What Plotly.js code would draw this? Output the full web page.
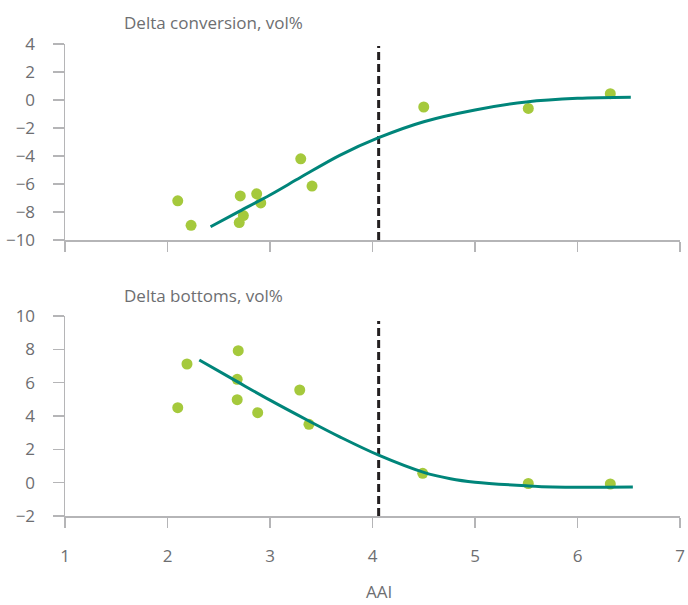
<!DOCTYPE html>
<html>
<head>
<meta charset="utf-8">
<script src="https://cdn.plot.ly/plotly-3.0.1.min.js"></script>
<style>html,body{margin:0;padding:0;background:#fff;}#chart{width:688px;height:605px;}</style>
</head>
<body>
<div id="chart"></div>
<script>
// Top panel: Delta conversion, vol%
const convX = [2.10, 2.23, 2.71, 2.70, 2.74, 2.87, 2.91, 3.30, 3.41, 4.50, 5.52, 6.32];
const convY = [-7.2, -8.95, -6.85, -8.75, -8.25, -6.7, -7.35, -4.2, -6.15, -0.5, -0.6, 0.45];
const convFitX = [2.42, 2.7, 3.0, 3.3, 3.68, 4.06, 4.5, 5.0, 5.5, 6.0, 6.52];
const convFitY = [-9.05, -7.95, -6.78, -5.52, -3.95, -2.69, -1.55, -0.71, -0.14, 0.12, 0.2];

// Bottom panel: Delta bottoms, vol%
const botX = [2.10, 2.19, 2.69, 2.68, 2.68, 2.88, 3.29, 3.38, 4.49, 5.52, 6.32];
const botY = [4.5, 7.12, 7.92, 6.2, 4.98, 4.2, 5.56, 3.5, 0.56, -0.05, -0.08];
const botFitX = [2.31, 2.68, 3.0, 3.38, 3.68, 4.06, 4.5, 4.76, 5.0, 5.5, 5.76, 6.54];
const botFitY = [7.36, 6.06, 4.95, 3.7, 2.75, 1.65, 0.62, 0.24, 0.03, -0.19, -0.26, -0.26];

const thresholdX = 4.06;
const xTicks = [1, 2, 3, 4, 5, 6, 7];
const convTicks = [-10, -8, -6, -4, -2, 0, 2, 4];
const botTicks = [-2, 0, 2, 4, 6, 8, 10];
const titles = ["Delta conversion, vol%", "Delta bottoms, vol%"];
const xTitle = "AAI";

const dotColor = "#a5c93c";
const lineColor = "#00857a";
const axisColor = "#b5b5b7";
const textColor = "#6d6e71";
const fontFam = "'Open Sans', 'Noto Sans', sans-serif";

const traces = [
  {x: convX, y: convY, xaxis: "x", yaxis: "y", mode: "markers", type: "scatter",
   marker: {color: dotColor, size: 11}, hoverinfo: "skip"},
  {x: convFitX, y: convFitY, xaxis: "x", yaxis: "y", mode: "lines", type: "scatter",
   line: {color: lineColor, width: 3, shape: "spline", smoothing: 1}, hoverinfo: "skip"},
  {x: botX, y: botY, xaxis: "x2", yaxis: "y2", mode: "markers", type: "scatter",
   marker: {color: dotColor, size: 11}, hoverinfo: "skip"},
  {x: botFitX, y: botFitY, xaxis: "x2", yaxis: "y2", mode: "lines", type: "scatter",
   line: {color: lineColor, width: 3, shape: "spline", smoothing: 1}, hoverinfo: "skip"}
];

const xCommon = {
  range: [1, 7], tickvals: xTicks, showgrid: false, zeroline: false,
  showline: true, linecolor: axisColor, linewidth: 1.5,
  ticks: "outside", ticklen: 10, tickcolor: axisColor, tickwidth: 1.5,
  tickfont: {family: fontFam, size: 17, color: textColor}, fixedrange: true
};
const yCommon = {
  showgrid: false, zeroline: false,
  showline: true, linecolor: axisColor, linewidth: 1.5,
  ticks: "outside", ticklen: 11, tickcolor: axisColor, tickwidth: 1.5,
  tickfont: {family: fontFam, size: 17, color: textColor}, ticklabelstandoff: 14,
  fixedrange: true
};

const layout = {
  width: 688, height: 605,
  margin: {l: 65, r: 8, t: 44, b: 89},
  paper_bgcolor: "#fff", plot_bgcolor: "#fff",
  showlegend: false,
  xaxis: Object.assign({}, xCommon, {domain: [0, 1], anchor: "y", showticklabels: false}),
  yaxis: Object.assign({}, yCommon, {domain: [0.5847, 1], anchor: "x", range: [-10, 4], tickvals: convTicks}),
  xaxis2: Object.assign({}, xCommon, {domain: [0, 1], anchor: "y2", ticklabelstandoff: 14}),
  yaxis2: Object.assign({}, yCommon, {domain: [0, 0.4237], anchor: "x2", range: [-2, 10], tickvals: botTicks}),
  shapes: [
    {type: "line", xref: "x", yref: "y", x0: thresholdX, x1: thresholdX, y0: -10, y1: 3.85,
     line: {color: "#231f20", width: 3, dash: "8px,4px"}, layer: "below"},
    {type: "line", xref: "x2", yref: "y2", x0: thresholdX, x1: thresholdX, y0: -2, y1: 9.7,
     line: {color: "#231f20", width: 3, dash: "8px,4px"}, layer: "below"}
  ],
  annotations: [
    {text: titles[0], xref: "paper", yref: "paper", x: 0.0927, y: 1.0, yshift: 22,
     xanchor: "left", yanchor: "middle", showarrow: false,
     font: {family: fontFam, size: 17, color: textColor}},
    {text: titles[1], xref: "paper", yref: "paper", x: 0.0927, y: 0.4237, yshift: 21,
     xanchor: "left", yanchor: "middle", showarrow: false,
     font: {family: fontFam, size: 17, color: textColor}},
    {text: xTitle, xref: "paper", yref: "paper", x: 0.5106, y: 0, yshift: -75,
     xanchor: "center", yanchor: "middle", showarrow: false,
     font: {family: fontFam, size: 17, color: textColor}}
  ]
};

Plotly.newPlot("chart", traces, layout, {displayModeBar: false, staticPlot: true});
</script>
</body>
</html>
